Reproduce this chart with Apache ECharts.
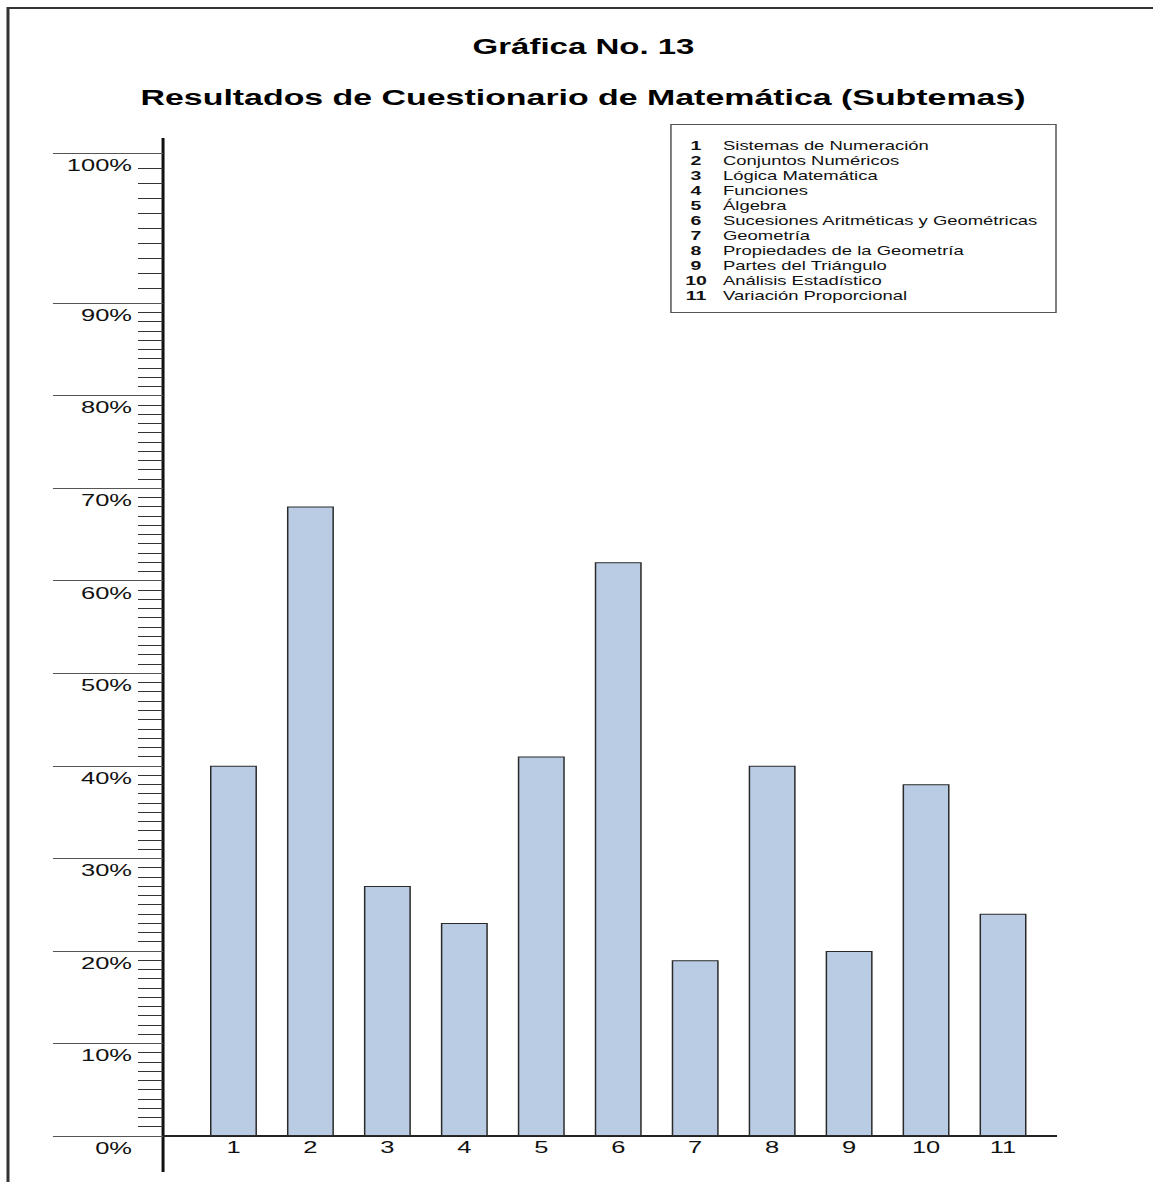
<!DOCTYPE html>
<html>
<head>
<meta charset="utf-8">
<script src="https://cdn.jsdelivr.net/npm/echarts@6/dist/echarts.min.js"></script>
<style>
    html, body { margin: 0; padding: 0; background: #fff; overflow: hidden; }
    /* the original picture is stretched horizontally by 1.5 */
    #main { width: 768.67px; height: 1182px; transform: scaleX(1.5); transform-origin: 0 0; }
</style>
</head>
<body>
<div id="main"></div>
<script>
const categories = ['1', '2', '3', '4', '5', '6', '7', '8', '9', '10', '11'];
const subtopics = [
    'Sistemas de Numeración',
    'Conjuntos Numéricos',
    'Lógica Matemática',
    'Funciones',
    'Álgebra',
    'Sucesiones Aritméticas y Geométricas',
    'Geometría',
    'Propiedades de la Geometría',
    'Partes del Triángulo',
    'Análisis Estadístico',
    'Variación Proporcional'
];
const percentages = [40, 68, 27, 23, 41, 62, 19, 40, 20, 38, 24];

const titleText = 'Gráfica No. 13';
const subtitleText = 'Resultados de Cuestionario de Matemática (Subtemas)';

// layout (unscaled px; x is later stretched by 1.5)
const W = 768.67;
const axisX = 108.7;
const plotLeft = 130, plotRight = 694;
const y0 = 1136, y90 = 303, y100 = 153;
const font = '"Liberation Sans", Arial, sans-serif';

const chart = echarts.init(document.getElementById('main'), null, { renderer: 'svg' });

const yAxisBase = {
    type: 'value',
    offset: plotLeft - axisX,
    interval: 10,
    axisLine: { show: false },
    splitLine: { show: false },
    axisTick: { show: true, length: axisX - 35.3, lineStyle: { color: '#555', width: 1 } },
    minorTick: { show: true, splitNumber: 10, length: axisX - 92, lineStyle: { color: '#333', width: 1 } },
    axisLabel: {
        margin: 20.7,
        fontFamily: font,
        fontSize: 17,
        color: '#111',
        verticalAlign: 'top',
        lineHeight: 24,
        formatter: (v) => v + '%'
    }
};

const legendItems = [];
subtopics.forEach((name, i) => {
    const y = 146 + i * 15;
    legendItems.push({
        type: 'text', x: 464, y: y,
        style: { text: categories[i], font: 'bold 13px ' + font, fill: '#111', align: 'center', verticalAlign: 'middle', textAlign: 'center', textVerticalAlign: 'middle' }
    });
    legendItems.push({
        type: 'text', x: 482, y: y,
        style: { text: name, font: '12.3px ' + font, fill: '#111', align: 'left', verticalAlign: 'middle', textAlign: 'left', textVerticalAlign: 'middle' }
    });
});

const option = {
    animation: false,
    backgroundColor: '#fff',
    grid: [
        { left: plotLeft, right: W - plotRight, top: y90, bottom: 1182 - y0 },
        { left: plotLeft, right: W - plotRight, top: y100, height: y90 - y100 }
    ],
    xAxis: [
        {
            type: 'category',
            gridIndex: 0,
            data: categories,
            axisLine: { show: false },
            axisTick: { show: false },
            axisLabel: { margin: 3, fontFamily: font, fontSize: 17, color: '#111' }
        },
        { type: 'category', gridIndex: 1, show: false, data: categories }
    ],
    yAxis: [
        Object.assign({}, yAxisBase, { gridIndex: 0, min: 0, max: 90 }),
        Object.assign({}, yAxisBase, {
            gridIndex: 1, min: 90, max: 100,
            axisLabel: Object.assign({}, yAxisBase.axisLabel, { showMinLabel: false })
        })
    ],
    series: [
        {
            type: 'bar',
            xAxisIndex: 0,
            yAxisIndex: 0,
            data: percentages,
            barWidth: 31.3,
            itemStyle: { color: '#b9cce4', borderColor: '#2a2a2a', borderWidth: 1 }
        }
    ],
    graphic: [
        // page frame
        { type: 'rect', shape: { x: 5.33, y: 8, width: 1000, height: 1300 }, style: { fill: 'none', stroke: '#333', lineWidth: 2 }, silent: true },
        // axis lines
        { type: 'line', shape: { x1: axisX, y1: 138, x2: axisX, y2: 1172 }, style: { stroke: '#111', lineWidth: 2 }, silent: true },
        { type: 'line', shape: { x1: axisX, y1: y0, x2: 704.7, y2: y0 }, style: { stroke: '#222', lineWidth: 2 }, silent: true },
        // titles
        { type: 'text', x: 389, y: 47, style: { text: titleText, font: 'bold 22px ' + font, fill: '#000', align: 'center', verticalAlign: 'middle', textAlign: 'center', textVerticalAlign: 'middle' } },
        { type: 'text', x: 388.7, y: 97, style: { text: subtitleText, font: 'bold 22.6px ' + font, fill: '#000', align: 'center', verticalAlign: 'middle', textAlign: 'center', textVerticalAlign: 'middle' } },
        // legend box
        { type: 'rect', shape: { x: 447.3, y: 124.5, width: 256.7, height: 188 }, style: { fill: '#fff', stroke: '#555', lineWidth: 1 }, silent: true },
        { type: 'group', children: legendItems }
    ]
};

chart.setOption(option);
</script>
</body>
</html>
